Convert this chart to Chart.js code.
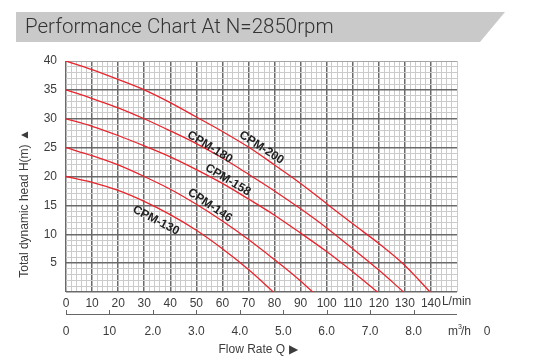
<!DOCTYPE html>
<html>
<head>
<meta charset="utf-8">
<script src="https://cdn.jsdelivr.net/npm/chart.js@4.4.0/dist/chart.umd.min.js"></script>
<style>
  html, body { margin: 0; padding: 0; background: #fff; }
</style>
</head>
<body>
<canvas id="grafico" width="538" height="362"></canvas>
<script>
// Flow Q (L/min) and head H (m), one pair per pump
const q200 = [0, 10, 20, 30, 40, 50, 60, 70, 80, 90, 100, 110, 120, 130, 139.7];
const h200 = [40, 38.5, 36.8, 35, 32.8, 30.3, 27.8, 25.1, 22, 18.8, 15.3, 11.8, 8.4, 4.6, 0];
const q180 = [0, 10, 20, 30, 40, 50, 60, 70, 80, 90, 100, 110, 120, 129.5];
const h180 = [35, 33.5, 31.9, 30, 27.9, 25.7, 23.2, 20.4, 17.5, 14.4, 11.1, 7.5, 3.8, 0];
const q158 = [0, 10, 20, 30, 40, 50, 60, 70, 80, 90, 100, 110, 119.5];
const h158 = [30, 28.7, 27.1, 25.3, 23.4, 21.2, 18.8, 16.1, 13.3, 10.2, 7, 3.5, 0];
const q146 = [0, 10, 20, 30, 40, 50, 60, 70, 80, 90, 94.6];
const h146 = [25, 23.6, 22, 20, 17.8, 15.2, 12.3, 9.1, 5.6, 1.9, 0];
const q130 = [0, 10, 20, 30, 40, 50, 60, 70, 79.6];
const h130 = [20, 19, 17.6, 15.7, 13.4, 10.7, 7.5, 3.9, 0];

const modelos = ['CPM-200', 'CPM-180', 'CPM-158', 'CPM-146', 'CPM-130'];
// where each model name sits on the chart (Q, H) and its slant in degrees
const rotuloQ = [75, 55.2, 62.1, 55.2, 34.5];
const rotuloH = [25.0, 25.1, 19.4, 15.0, 12.4];
const rotuloAng = [33, 31.5, 31, 34, 27.5];

// second flow axis in m3/h
const m3hValores = [0, 1, 2, 3, 4, 5, 6, 7, 8];
const m3hRotulos = ['0', '10', '2.0', '3.0', '4.0', '5.0', '6.0', '7.0', '8.0'];

const curvas = [[q200, h200], [q180, h180], [q158, h158], [q146, h146], [q130, h130]];

const fonte = "'Liberation Sans', Arial, sans-serif";
const corTexto = '#3c3c3c';
const vermelho = '#e8242c';
const gridForte = '#6a6a6a';
const gridFraco = '#cbcbcb';

const decoracao = {
  id: 'decoracao',
  beforeDraw(chart) {
    const c = chart.ctx;
    c.save();
    c.fillStyle = '#fff';
    c.fillRect(0, 0, chart.width, chart.height);
    // faixa cinza do titulo
    c.fillStyle = '#c9c9c9';
    c.beginPath();
    c.moveTo(16, 12);
    c.lineTo(505, 12);
    c.lineTo(480, 42);
    c.lineTo(16, 42);
    c.closePath();
    c.fill();
    c.fillStyle = '#333';
    c.font = "300 20.5px Roboto, " + fonte;
    c.textBaseline = 'middle';
    c.fillText('Performance Chart At N=2850rpm', 25, 27.5);
    c.restore();
  },
  afterDatasetsDraw(chart) {
    const c = chart.ctx;
    const x = chart.scales.x, y = chart.scales.y;
    c.save();
    c.fillStyle = '#222';
    c.font = 'bold 12px ' + fonte;
    c.textAlign = 'center';
    c.textBaseline = 'middle';
    modelos.forEach((nome, i) => {
      c.save();
      c.translate(x.getPixelForValue(rotuloQ[i]), y.getPixelForValue(rotuloH[i]));
      c.rotate(rotuloAng[i] * Math.PI / 180);
      c.fillText(nome, 0, 0);
      c.restore();
    });
    c.restore();
  },
  afterDraw(chart) {
    const c = chart.ctx;
    const x = chart.scales.x;
    const area = chart.chartArea;
    c.save();
    c.fillStyle = corTexto;
    c.font = '12px ' + fonte;
    c.textBaseline = 'middle';
    // unidade do eixo principal
    c.textAlign = 'left';
    c.fillText('L/min', x.getPixelForValue(140) + 11, area.bottom + 10);

    // eixo m3/h
    const base = area.bottom + 22;
    c.strokeStyle = '#666';
    c.lineWidth = 1;
    c.beginPath();
    c.moveTo(area.left, base + 0.5);
    c.lineTo(area.right, base + 0.5);
    m3hValores.forEach(v => {
      const px = Math.round(x.getPixelForValue(v * 1000 / 60)) + 0.5;
      c.moveTo(px, base - 4);
      c.lineTo(px, base + 0.5);
    });
    c.stroke();
    c.textAlign = 'center';
    m3hValores.forEach((v, i) => {
      c.fillText(m3hRotulos[i], x.getPixelForValue(v * 1000 / 60), base + 18);
    });
    c.textAlign = 'left';
    c.fillText('m', area.right - 9, base + 18);
    c.font = '7px ' + fonte;
    c.fillText('3', area.right + 1, base + 13);
    c.font = '12px ' + fonte;
    c.fillText('/h', area.right + 4, base + 18);
    c.textAlign = 'center';
    c.fillText('0', area.right + 30, base + 18);

    // titulos dos eixos
    c.fillText('Flow Rate Q \u25B6', 258, base + 36);
    c.save();
    c.translate(25, (area.top + area.bottom) / 2 + 27);
    c.rotate(-Math.PI / 2);
    c.fillText('Total dynamic head H(m) \u25B2', 0, 0);
    c.restore();
    c.restore();
  }
};

const ctx = document.getElementById('grafico').getContext('2d');

new Chart(ctx, {
  type: 'line',
  data: {
    datasets: curvas.map((cv, i) => ({
      label: modelos[i],
      data: cv[0].map((q, k) => ({ x: q, y: cv[1][k] })),
      borderColor: vermelho,
      borderWidth: 1.3,
      pointRadius: 0,
      fill: false,
      cubicInterpolationMode: 'monotone'
    }))
  },
  options: {
    responsive: false,
    animation: false,
    layout: { padding: { top: 61, left: 0, right: 81, bottom: 50 } },
    plugins: {
      legend: { display: false },
      tooltip: { enabled: false }
    },
    scales: {
      x: {
        type: 'linear',
        min: 0,
        max: 150,
        afterFit: s => { s.height = 20; },
        border: { display: false },
        grid: {
          drawTicks: false,
          color: g => g.tick.value === 150 ? gridFraco : (g.tick.value % 10 === 0 ? gridForte : gridFraco),
          lineWidth: g => (g.tick.value % 10 === 0 && g.tick.value !== 150) ? 1.5 : 1
        },
        ticks: {
          stepSize: 2,
          autoSkip: false,
          maxRotation: 0,
          padding: 4,
          color: corTexto,
          font: { family: fonte, size: 12 },
          callback: v => (v % 10 === 0 && v <= 140) ? String(v) : ''
        }
      },
      y: {
        min: 0,
        max: 40,
        afterFit: s => { s.width = 66; },
        border: { display: false },
        grid: {
          drawTicks: false,
          color: g => g.tick.value === 40 ? '#a5a5a5' : (g.tick.value % 5 === 0 ? gridForte : gridFraco),
          lineWidth: g => (g.tick.value % 5 === 0 && g.tick.value !== 40) ? 1.5 : 1
        },
        ticks: {
          stepSize: 1,
          autoSkip: false,
          padding: 9,
          color: corTexto,
          font: { family: fonte, size: 12 },
          callback: v => (v % 5 === 0 && v > 0) ? String(v) : ''
        }
      }
    }
  },
  plugins: [decoracao]
});
</script>
</body>
</html>
